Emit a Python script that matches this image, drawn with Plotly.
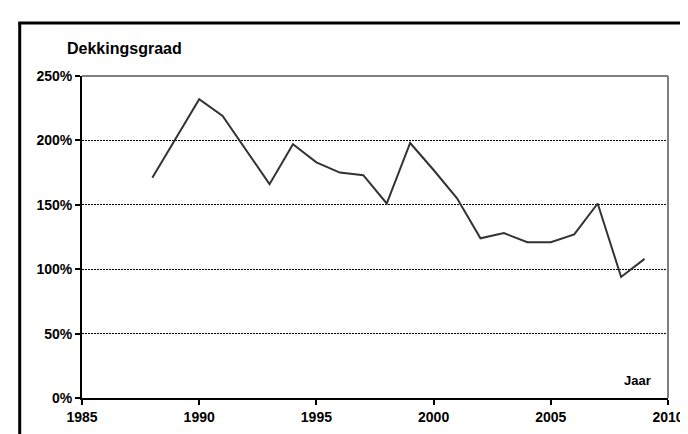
import plotly.graph_objects as go

years = [1988, 1989, 1990, 1991, 1992, 1993, 1994, 1995, 1996, 1997, 1998,
         1999, 2000, 2001, 2002, 2003, 2004, 2005, 2006, 2007, 2008, 2009]
dekkingsgraad = [171, 201, 232, 219, 192, 166, 197, 183, 175, 173, 151,
                 198, 177, 155, 124, 128, 121, 121, 127, 151, 94, 108]
x_ticks = [1985, 1990, 1995, 2000, 2005, 2010]
y_ticks = [0, 50, 100, 150, 200, 250]
y_tick_labels = ["0%", "50%", "100%", "150%", "200%", "250%"]

W, H = 688, 434
ML, MR, MT, MB = 74, 26, 68, 44
PW, PH = W - ML - MR, H - MT - MB


def px_x(p):
    return (p - ML) / PW


def px_y(p):
    return (H - MB - p) / PH


FONT = "Arial, Liberation Sans, sans-serif"

fig = go.Figure()
fig.add_trace(go.Scatter(x=years, y=dekkingsgraad, mode="lines",
                         line=dict(color="#333333", width=2),
                         showlegend=False, hoverinfo="skip"))

fig.update_layout(
    width=W, height=H,
    margin=dict(l=ML, r=MR, t=MT, b=MB),
    paper_bgcolor="white", plot_bgcolor="white",
    font=dict(family=FONT, color="black"),
    xaxis=dict(range=[1985, 2010], tickmode="array", tickvals=x_ticks,
               ticktext=[str(v) for v in x_ticks], showgrid=False,
               zeroline=False, showline=True, linecolor="black", linewidth=2,
               ticks="outside", ticklen=5, tickcolor="black", tickwidth=1.5,
               tickfont=dict(size=14, weight="bold", family=FONT)),
    yaxis=dict(range=[0, 250], tickmode="array", tickvals=y_ticks,
               ticktext=y_tick_labels,
               showgrid=True, gridcolor="black", griddash="2px,1px",
               gridwidth=1.4,
               zeroline=False, showline=True, linecolor="black", linewidth=2,
               ticks="outside", ticklen=5, tickcolor="black", tickwidth=1.5,
               tickfont=dict(size=14, weight="bold", family=FONT)),
    shapes=[
        # gray plot border (top and right)
        dict(type="line", xref="paper", yref="paper", x0=0, x1=1, y0=1, y1=1,
             line=dict(color="#808080", width=2)),
        dict(type="line", xref="paper", yref="paper", x0=1, x1=1, y0=0, y1=1,
             line=dict(color="#808080", width=2)),
        # outer black frame
        dict(type="line", xref="paper", yref="paper",
             x0=px_x(11.5), x1=px_x(11.5), y0=px_y(15), y1=px_y(460),
             line=dict(color="black", width=3)),
        dict(type="line", xref="paper", yref="paper",
             x0=px_x(10), x1=px_x(720), y0=px_y(15), y1=px_y(15),
             line=dict(color="black", width=3)),
    ],
    annotations=[
        dict(text="<b>Dekkingsgraad</b>", xref="paper", yref="paper",
             x=px_x(57), y=px_y(40), xanchor="left", yanchor="middle",
             showarrow=False, font=dict(size=16, family=FONT, color="black")),
        dict(text="<b>Jaar</b>", xref="paper", yref="paper",
             x=px_x(631), y=px_y(372), xanchor="center", yanchor="middle",
             showarrow=False, font=dict(size=13, family=FONT, color="black")),
    ],
)

fig.write_html("out.html")
